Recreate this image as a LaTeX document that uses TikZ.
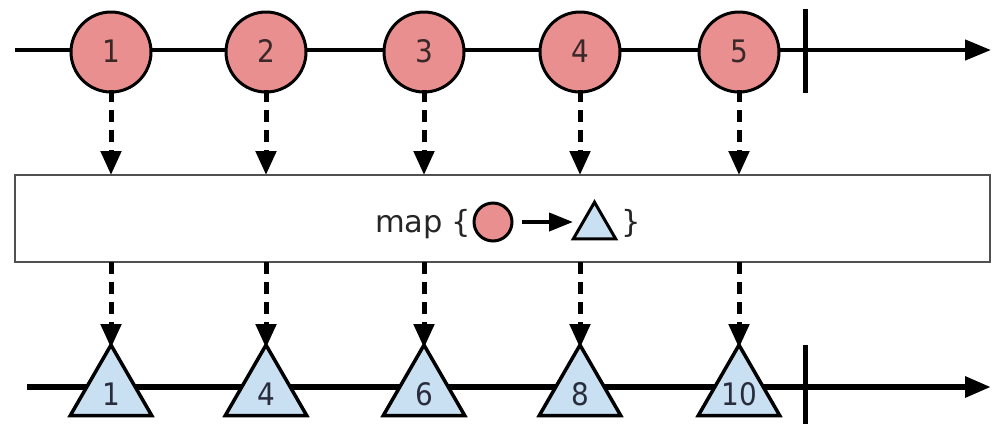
\documentclass[tikz,border=0pt]{standalone}
\usepackage{fontspec}
\setmainfont{DejaVu Sans}
\newfontfamily\digitfont{DejaVu Sans Condensed}
\usetikzlibrary{arrows.meta,shapes.geometric,backgrounds}
\definecolor{marblered}{RGB}{233,143,143}
\definecolor{marbleblue}{RGB}{201,224,242}
\definecolor{inkgray}{RGB}{58,40,40}
\definecolor{inknavy}{RGB}{40,44,60}
\definecolor{boxgray}{RGB}{80,80,80}
\tikzset{
  marble/.style={circle,draw=black,line width=3pt,fill=marblered,minimum size=80pt,
    inner sep=0pt,outer sep=0pt},
  marblelabel/.style={inner sep=0pt,text=inkgray,font=\digitfont\fontsize{31}{33}\selectfont},
  result/.style={regular polygon,regular polygon sides=3,draw=black,line width=3.5pt,
    fill=marbleblue,minimum size=94pt,inner sep=0pt,outer sep=0pt},
  resultlabel/.style={inner sep=0pt,text=inknavy,font=\digitfont\fontsize{31}{33}\selectfont},
  timeline/.style={line width=4.5pt,-{Triangle[length=26pt,width=20pt]}},
  emit/.style={line width=5pt,dash pattern=on 12pt off 8pt,-{Triangle[length=24pt,width=20pt]}},
  stopmark/.style={line width=5pt},
  opbox/.style={rectangle,draw=boxgray,line width=1.5pt,fill=white,minimum width=975pt,
    minimum height=87pt,inner sep=0pt,outer sep=0pt},
  optext/.style={inner sep=0pt,text=black!85,font=\fontsize{30.5}{32}\selectfont},
  symcircle/.style={circle,draw=black,line width=3pt,fill=marblered,minimum size=38pt,
    inner sep=0pt,outer sep=0pt},
  symtri/.style={regular polygon,regular polygon sides=3,draw=black,line width=3pt,
    fill=marbleblue,minimum size=49pt,inner sep=0pt,outer sep=0pt},
  maparrow/.style={line width=4pt,-{Triangle[length=24pt,width=18pt]}},
}
\begin{document}
\begin{tikzpicture}[x=1pt,y=-1pt]
  \useasboundingbox (0,0) rectangle (992,424);

  % source stream
  \coordinate (srcstart) at (15,50);
  \coordinate (srcend) at (991,50);
  \coordinate (srcstoptop) at (805,9);
  \coordinate (srcstopbot) at (805,93);
  \foreach \i/\x in {1/111,2/266,3/424,4/580,5/739} {
    \node[marble] (c\i) at (\x,52) {};
    \node[marblelabel] (n\i) at ([yshift=1pt]c\i.center) {\i};
  }

  % operator box
  \node[opbox] (mapbox) at (502.5,218.5) {};
  \node[optext,anchor=base west] (maplabel) at (375,232) {map};
  \node[optext,anchor=base west] (openbrace) at (451,232) {\{};
  \node[symcircle] (symin) at (493,222) {};
  \node[symtri] (symout) at (594.5,226.7) {};
  \node[optext,anchor=base west] (closebrace) at (621,232) {\}};
  \draw[maparrow] ([xshift=10pt]symin.east) -- ([xshift=61pt]symin.east);

  % result stream
  \coordinate (resstart) at (27,387);
  \coordinate (resend) at (991,387);
  \coordinate (resstoptop) at (805,345);
  \coordinate (resstopbot) at (805,424);
  \foreach \i/\x/\v in {1/111/1,2/266/4,3/424/6,4/580/8,5/739/10} {
    \node[result] (t\i) at (\x,392) {};
    \node[resultlabel] (v\i) at ([yshift=-2pt]t\i.center) {\v};
  }

  \begin{scope}[on background layer]
    \draw[timeline] (srcstart) -- (srcend);
    \draw[stopmark] (srcstoptop) -- (srcstopbot);
    \draw[timeline,line width=6pt] (resstart) -- (resend);
    \draw[stopmark] (resstoptop) -- (resstopbot);
  \end{scope}

  % emissions passing through the operator
  \foreach \i in {1,...,5} {
    \draw[emit] ([yshift=2pt]c\i.south) -- (c\i.south |- mapbox.north);
    \draw[emit] (mapbox.south -| t\i.corner 1) -- ([yshift=-3pt]t\i.corner 1);
  }
\end{tikzpicture}
\end{document}
